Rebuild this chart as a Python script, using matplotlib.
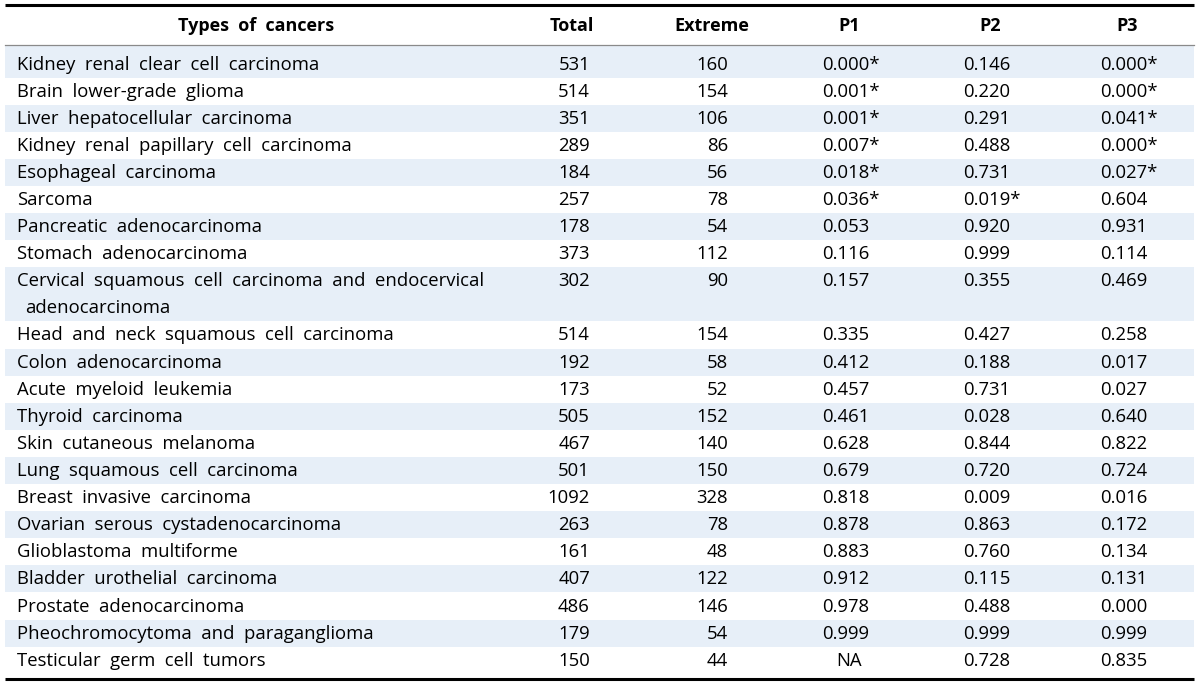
"""
  Table of cancer types with extreme-group sizes and P values
"""
import matplotlib.pyplot as plt

cancers = ['Kidney renal clear cell carcinoma', 'Brain lower-grade glioma',
           'Liver hepatocellular carcinoma', 'Kidney renal papillary cell carcinoma',
           'Esophageal carcinoma', 'Sarcoma', 'Pancreatic adenocarcinoma',
           'Stomach adenocarcinoma',
           'Cervical squamous cell carcinoma and endocervical\nadenocarcinoma',
           'Head and neck squamous cell carcinoma', 'Colon adenocarcinoma',
           'Acute myeloid leukemia', 'Thyroid carcinoma', 'Skin cutaneous melanoma',
           'Lung squamous cell carcinoma', 'Breast invasive carcinoma',
           'Ovarian serous cystadenocarcinoma', 'Glioblastoma multiforme',
           'Bladder urothelial carcinoma', 'Prostate adenocarcinoma',
           'Pheochromocytoma and paraganglioma', 'Testicular germ cell tumors']
total = [531, 514, 351, 289, 184, 257, 178, 373, 302, 514, 192, 173, 505, 467,
         501, 1092, 263, 161, 407, 486, 179, 150]
extreme = [160, 154, 106, 86, 56, 78, 54, 112, 90, 154, 58, 52, 152, 140, 150,
           328, 78, 48, 122, 146, 54, 44]
p1 = ['0.000*', '0.001*', '0.001*', '0.007*', '0.018*', '0.036*', '0.053', '0.116',
      '0.157', '0.335', '0.412', '0.457', '0.461', '0.628', '0.679', '0.818',
      '0.878', '0.883', '0.912', '0.978', '0.999', 'NA']
p2 = ['0.146', '0.220', '0.291', '0.488', '0.731', '0.019*', '0.920', '0.999',
      '0.355', '0.427', '0.188', '0.731', '0.028', '0.844', '0.720', '0.009',
      '0.863', '0.760', '0.115', '0.488', '0.999', '0.728']
p3 = ['0.000*', '0.000*', '0.041*', '0.000*', '0.027*', '0.604', '0.931', '0.114',
      '0.469', '0.258', '0.017', '0.027', '0.640', '0.822', '0.724', '0.016',
      '0.172', '0.134', '0.131', '0.000', '0.999', '0.835']
headers = ['Types of cancers', 'Total', 'Extreme', 'P1', 'P2', 'P3']

plt.rcParams['font.family'] = ['Open Sans', 'DejaVu Sans']

fig = plt.figure(figsize=(12, 6.86), dpi=100)
ax = fig.add_axes([0, 0, 1, 1])
ax.set_xlim(0, 1200)
ax.set_ylim(686, 0)
ax.axis('off')

fs = 13.3
shade = '#E7EFF8'
left, right = 5, 1194
top_line, head_line, bottom_line = 4.5, 45, 678.5
first_c = 64      # centre of the first text line
line_h = 27.1
dy = 0.5

def wide(s):
  # the source typesets words with generous spacing
  return s.replace(' ', '  ')

# header
head_x = [256, 572, 712, 849, 990, 1127]
for x, h in zip(head_x, headers):
  ax.text(x, (top_line + head_line) / 2 + 1, wide(h), ha='center', va='center',
          fontsize=13, fontweight='bold')

# body
k = 0
for i in range(len(cancers)):
  parts = cancers[i].split('\n')
  n = len(parts)
  yc = first_c + k * line_h
  top = head_line + 0.5 if k == 0 else yc - line_h / 2
  bot = yc + (n - 1) * line_h + line_h / 2
  if i == len(cancers) - 1:
    bot = bottom_line
  if i % 2 == 0:
    ax.add_patch(plt.Rectangle((left, top), right - left, bot - top,
                               color=shade, lw=0))
  for j in range(n):
    ax.text(17 + (8 if j > 0 else 0), yc + j * line_h + dy, wide(parts[j]),
            ha='left', va='center', fontsize=fs)
  ax.text(590, yc + dy, str(total[i]), ha='right', va='center', fontsize=fs)
  ax.text(728, yc + dy, str(extreme[i]), ha='right', va='center', fontsize=fs)
  for xc, col in zip([849, 990, 1127], [p1, p2, p3]):
    if col[i] == 'NA':
      ax.text(xc, yc + dy, col[i], ha='center', va='center', fontsize=fs)
    else:
      ax.text(xc - 27, yc + dy, col[i], ha='left', va='center', fontsize=fs)
  k += n

ax.plot([left, right], [top_line, top_line], color='black', lw=2.2,
        solid_capstyle='butt')
ax.plot([left, right], [head_line, head_line], color='#8a8a8a', lw=0.9)
ax.plot([left, right], [bottom_line, bottom_line], color='black', lw=2.2,
        solid_capstyle='butt')

plt.savefig('out.png', dpi=100)
